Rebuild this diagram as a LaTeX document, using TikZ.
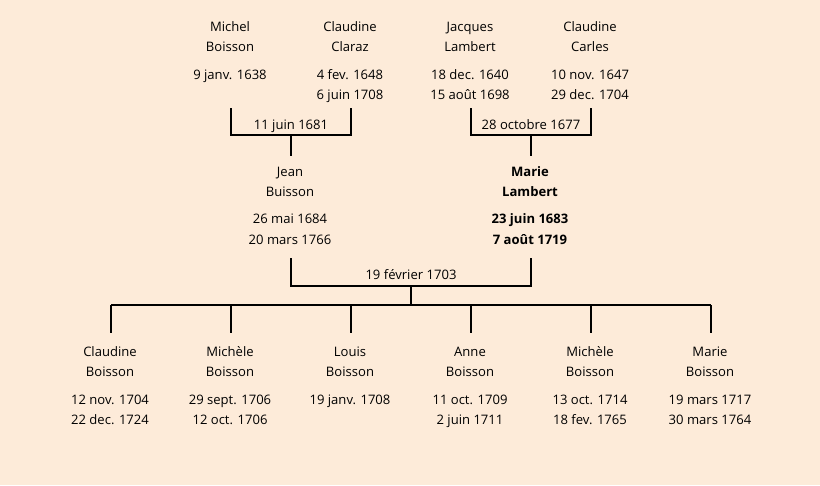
\documentclass[tikz,border=0pt]{standalone}
\usepackage{fontspec}
\setmainfont{Open Sans}
\definecolor{bg}{RGB}{253,235,217}
\begin{document}
\begin{tikzpicture}[x=0.75pt,y=-0.75pt,
  txt/.style={inner sep=0pt,text height=8pt,text depth=1pt,font=\fontsize{9.8pt}{11pt}\selectfont},
  btxt/.style={txt,font=\fontsize{9.8pt}{11pt}\selectfont\bfseries},
  link/.style={line width=1.5pt,black}]
\fill[bg] (0,0) rectangle (820,485);
\useasboundingbox (0,0) rectangle (820,485);
% top generation
\foreach \n/\x/\a/\b/\c/\d in {mb/230/Michel/Boisson/9 janv. 1638/,
  cc/350/Claudine/Claraz/4 fev. 1648/6 juin 1708,
  jl/470/Jacques/Lambert/18 dec. 1640/15 août 1698,
  ca/590/Claudine/Carles/10 nov. 1647/29 dec. 1704}{
  \node[txt] (\n1) at (\x,27) {\a};
  \node[txt] (\n2) at (\x,47) {\b};
  \node[txt] (\n3) at (\x,75) {\c};
  \node[txt] (\n4) at (\x,95) {\d};
}
\coordinate (mbt) at (231,108); \coordinate (cct) at (351,108);
\coordinate (jlt) at (471,108); \coordinate (cat) at (591,108);
\coordinate (m1) at (291,135); \coordinate (m2) at (531,135);
\draw[link] (mbt) |- (m1) -| (cct);
\draw[link] (jlt) |- (m2) -| (cat);
\node[txt] (w1) at (291,125) {11 juin 1681};
\node[txt] (w2) at (531,125) {28 octobre 1677};
% middle generation
\node[txt] (jb1) at (290,172) {Jean};
\node[txt] (jb2) at (290,192) {Buisson};
\node[txt] (jb3) at (290,219) {26 mai 1684};
\node[txt] (jb4) at (290,240) {20 mars 1766};
\node[btxt] (ml1) at (530,172) {Marie};
\node[btxt] (ml2) at (530,192) {Lambert};
\node[btxt] (ml3) at (530,219) {23 juin 1683};
\node[btxt] (ml4) at (530,240) {7 août 1719};
\coordinate (jbs) at (291,156); \coordinate (mls) at (531,156);
\draw[link] (m1) -- (jbs);
\draw[link] (m2) -- (mls);
\coordinate (jbt) at (291,258); \coordinate (mlt) at (531,258);
\coordinate (m3) at (411,286);
\draw[link] (jbt) |- (m3) -| (mlt);
\node[txt] (w3) at (411,275) {19 février 1703};
\coordinate (bar) at (411,305);
\draw[link] (m3) -- (bar);
\coordinate (barL) at (111,305); \coordinate (barR) at (711,305);
\draw[link] (barL) -- (barR);
% children
\foreach \n/\x/\a/\c/\d in {c1/110/Claudine/12 nov. 1704/22 dec. 1724,
  c2/230/Michèle/29 sept. 1706/12 oct. 1706,
  c3/350/Louis/19 janv. 1708/,
  c4/470/Anne/11 oct. 1709/2 juin 1711,
  c5/590/Michèle/13 oct. 1714/18 fev. 1765,
  c6/710/Marie/19 mars 1717/30 mars 1764}{
  \coordinate (\n t) at (\x+1,305);
  \coordinate (\n b) at (\x+1,333);
  \draw[link] (\n t) -- (\n b);
  \node[txt] (\n1) at (\x,352) {\a};
  \node[txt] (\n2) at (\x,372) {Boisson};
  \node[txt] (\n3) at (\x,400) {\c};
  \node[txt] (\n4) at (\x,420) {\d};
}
\end{tikzpicture}
\end{document}
